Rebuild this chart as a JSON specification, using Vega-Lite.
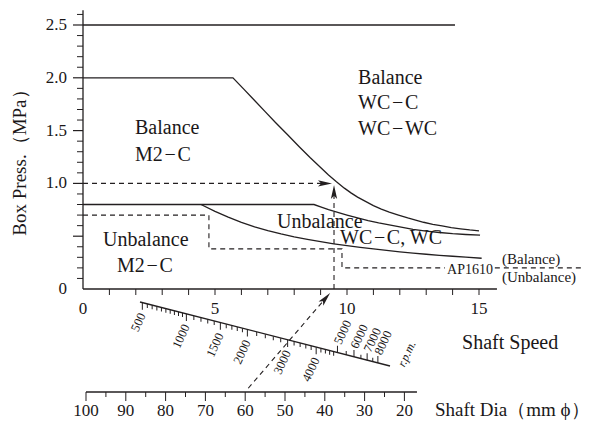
{
  "$schema": "https://vega.github.io/schema/vega-lite/v6.json",
  "width": 590,
  "height": 424,
  "padding": 0,
  "autosize": {"type": "none"},
  "background": "white",
  "config": {
    "view": {"stroke": null},
    "mark": {"color": "#231f20"},
    "text": {"font": "'Liberation Serif', 'Times New Roman', 'DejaVu Serif', serif", "color": "#1a1718"}
  },
  "datasets": {
    "solid": [
      {"g": "top25", "i": 1, "v": 0, "p": 2.5},
      {"g": "top25", "i": 2, "v": 14.09, "p": 2.5},
      {"g": "upper", "i": 1, "v": 0, "p": 2.0},
      {"g": "upper", "i": 2, "v": 5.68, "p": 2.0},
      {"g": "upper", "i": 3, "v": 6.1, "p": 1.89},
      {"g": "upper", "i": 4, "v": 6.5, "p": 1.785},
      {"g": "upper", "i": 5, "v": 6.9, "p": 1.68},
      {"g": "upper", "i": 6, "v": 7.3, "p": 1.575},
      {"g": "upper", "i": 7, "v": 7.75, "p": 1.46},
      {"g": "upper", "i": 8, "v": 8.2, "p": 1.345},
      {"g": "upper", "i": 9, "v": 8.6, "p": 1.245},
      {"g": "upper", "i": 10, "v": 9.0, "p": 1.15},
      {"g": "upper", "i": 11, "v": 9.3, "p": 1.08},
      {"g": "upper", "i": 12, "v": 9.6, "p": 1.015},
      {"g": "upper", "i": 13, "v": 9.9, "p": 0.955},
      {"g": "upper", "i": 14, "v": 10.15, "p": 0.91},
      {"g": "upper", "i": 15, "v": 10.4, "p": 0.87},
      {"g": "upper", "i": 16, "v": 10.7, "p": 0.83},
      {"g": "upper", "i": 17, "v": 11.0, "p": 0.79},
      {"g": "upper", "i": 18, "v": 11.3, "p": 0.757},
      {"g": "upper", "i": 19, "v": 11.6, "p": 0.728},
      {"g": "upper", "i": 20, "v": 11.95, "p": 0.7},
      {"g": "upper", "i": 21, "v": 12.3, "p": 0.673},
      {"g": "upper", "i": 22, "v": 12.6, "p": 0.652},
      {"g": "upper", "i": 23, "v": 12.9, "p": 0.632},
      {"g": "upper", "i": 24, "v": 13.25, "p": 0.613},
      {"g": "upper", "i": 25, "v": 13.6, "p": 0.597},
      {"g": "upper", "i": 26, "v": 13.95, "p": 0.582},
      {"g": "upper", "i": 27, "v": 14.3, "p": 0.57},
      {"g": "upper", "i": 28, "v": 14.65, "p": 0.559},
      {"g": "upper", "i": 29, "v": 15.0, "p": 0.55},
      {"g": "middle", "i": 1, "v": 0, "p": 0.8},
      {"g": "middle", "i": 2, "v": 8.75, "p": 0.8},
      {"g": "middle", "i": 3, "v": 9.0, "p": 0.778},
      {"g": "middle", "i": 4, "v": 9.3, "p": 0.752},
      {"g": "middle", "i": 5, "v": 9.65, "p": 0.725},
      {"g": "middle", "i": 6, "v": 10.0, "p": 0.7},
      {"g": "middle", "i": 7, "v": 10.4, "p": 0.673},
      {"g": "middle", "i": 8, "v": 10.8, "p": 0.648},
      {"g": "middle", "i": 9, "v": 11.2, "p": 0.626},
      {"g": "middle", "i": 10, "v": 11.6, "p": 0.607},
      {"g": "middle", "i": 11, "v": 12.05, "p": 0.586},
      {"g": "middle", "i": 12, "v": 12.5, "p": 0.565},
      {"g": "middle", "i": 13, "v": 13.0, "p": 0.548},
      {"g": "middle", "i": 14, "v": 13.5, "p": 0.535},
      {"g": "middle", "i": 15, "v": 14.0, "p": 0.524},
      {"g": "middle", "i": 16, "v": 14.5, "p": 0.516},
      {"g": "middle", "i": 17, "v": 15.04, "p": 0.51},
      {"g": "lower", "i": 1, "v": 4.47, "p": 0.8},
      {"g": "lower", "i": 2, "v": 5.0, "p": 0.735},
      {"g": "lower", "i": 3, "v": 5.5, "p": 0.68},
      {"g": "lower", "i": 4, "v": 6.0, "p": 0.63},
      {"g": "lower", "i": 5, "v": 6.5, "p": 0.589},
      {"g": "lower", "i": 6, "v": 7.0, "p": 0.553},
      {"g": "lower", "i": 7, "v": 7.5, "p": 0.522},
      {"g": "lower", "i": 8, "v": 8.0, "p": 0.494},
      {"g": "lower", "i": 9, "v": 8.5, "p": 0.47},
      {"g": "lower", "i": 10, "v": 9.0, "p": 0.448},
      {"g": "lower", "i": 11, "v": 9.5, "p": 0.428},
      {"g": "lower", "i": 12, "v": 10.0, "p": 0.41},
      {"g": "lower", "i": 13, "v": 10.5, "p": 0.394},
      {"g": "lower", "i": 14, "v": 11.0, "p": 0.379},
      {"g": "lower", "i": 15, "v": 11.5, "p": 0.365},
      {"g": "lower", "i": 16, "v": 12.0, "p": 0.352},
      {"g": "lower", "i": 17, "v": 12.5, "p": 0.34},
      {"g": "lower", "i": 18, "v": 13.0, "p": 0.329},
      {"g": "lower", "i": 19, "v": 13.5, "p": 0.319},
      {"g": "lower", "i": 20, "v": 14.0, "p": 0.31},
      {"g": "lower", "i": 21, "v": 14.5, "p": 0.301},
      {"g": "lower", "i": 22, "v": 15.1, "p": 0.291},
      {"g": "yaxis", "i": 1, "v": 0, "p": 0},
      {"g": "yaxis", "i": 2, "v": 0, "p": 2.64},
      {"g": "xaxis", "i": 1, "v": 0, "p": 0},
      {"g": "xaxis", "i": 2, "v": 15.68, "p": 0},
      {"g": "rpm", "i": 1, "v": 2.159, "p": -0.1231},
      {"g": "rpm", "i": 2, "v": 11.629, "p": -0.7292},
      {"g": "dia", "i": 1, "v": 0.1136, "p": -0.9754},
      {"g": "dia", "i": 2, "v": 12.65, "p": -0.9754}
    ],
    "dashed": [
      {"g": "m2c", "i": 1, "v": 0, "p": 0.7},
      {"g": "m2c", "i": 2, "v": 4.77, "p": 0.7},
      {"g": "m2c", "i": 3, "v": 4.77, "p": 0.38},
      {"g": "m2c", "i": 4, "v": 9.81, "p": 0.38},
      {"g": "m2c", "i": 5, "v": 9.81, "p": 0.2},
      {"g": "m2c", "i": 6, "v": 13.71, "p": 0.2},
      {"g": "ap", "i": 1, "v": 15.6, "p": 0.2},
      {"g": "ap", "i": 2, "v": 18.94, "p": 0.2},
      {"g": "h1", "i": 1, "v": 0, "p": 1.0},
      {"g": "h1", "i": 2, "v": 9.17, "p": 1.0},
      {"g": "v1", "i": 1, "v": 9.508, "p": 0.0},
      {"g": "v1", "i": 2, "v": 9.508, "p": 0.92},
      {"g": "d1", "i": 1, "v": 6.26, "p": -0.94},
      {"g": "d1", "i": 2, "v": 9.186, "p": -0.088}
    ],
    "yMinor": [
      {"v": 0, "p": 0.1}, {"v": 0, "p": 0.2}, {"v": 0, "p": 0.3}, {"v": 0, "p": 0.4}, {"v": 0, "p": 0.6},
      {"v": 0, "p": 0.7}, {"v": 0, "p": 0.8}, {"v": 0, "p": 0.9}, {"v": 0, "p": 1.1}, {"v": 0, "p": 1.2},
      {"v": 0, "p": 1.3}, {"v": 0, "p": 1.4}, {"v": 0, "p": 1.6}, {"v": 0, "p": 1.7}, {"v": 0, "p": 1.8},
      {"v": 0, "p": 1.9}, {"v": 0, "p": 2.1}, {"v": 0, "p": 2.2}, {"v": 0, "p": 2.3}, {"v": 0, "p": 2.4},
      {"v": 0, "p": 2.6}
    ],
    "yMajor": [{"v": 0, "p": 0.5}, {"v": 0, "p": 1.0}, {"v": 0, "p": 1.5}, {"v": 0, "p": 2.0}, {"v": 0, "p": 2.5}],
    "yLabels": [
      {"v": 0, "p": 0, "t": "0"}, {"v": 0, "p": 1.0, "t": "1.0"}, {"v": 0, "p": 1.5, "t": "1.5"},
      {"v": 0, "p": 2.0, "t": "2.0"}, {"v": 0, "p": 2.5, "t": "2.5"}
    ],
    "xTicks": [
      {"v": 1, "p": 0}, {"v": 2, "p": 0}, {"v": 3, "p": 0}, {"v": 4, "p": 0}, {"v": 5, "p": 0},
      {"v": 6, "p": 0}, {"v": 7, "p": 0}, {"v": 8, "p": 0}, {"v": 9, "p": 0}, {"v": 10, "p": 0},
      {"v": 11, "p": 0}, {"v": 12, "p": 0}, {"v": 13, "p": 0}, {"v": 14, "p": 0}, {"v": 15, "p": 0}
    ],
    "xLabels": [
      {"v": 0, "p": 0, "t": "0"}, {"v": 5, "p": 0, "t": "5"}, {"v": 10, "p": 0, "t": "10"}, {"v": 15, "p": 0, "t": "15"}
    ],
    "diaMajor": [
      {"v": 0.1136, "p": -0.9754, "t": "100"}, {"v": 1.6212, "p": -0.9754, "t": "90"},
      {"v": 3.1288, "p": -0.9754, "t": "80"}, {"v": 4.6364, "p": -0.9754, "t": "70"},
      {"v": 6.1439, "p": -0.9754, "t": "60"}, {"v": 7.6515, "p": -0.9754, "t": "50"},
      {"v": 9.1591, "p": -0.9754, "t": "40"}, {"v": 10.6667, "p": -0.9754, "t": "30"},
      {"v": 12.1742, "p": -0.9754, "t": "20"}
    ],
    "diaMinor": [
      {"v": 0.8674, "p": -0.9754}, {"v": 2.375, "p": -0.9754}, {"v": 3.8826, "p": -0.9754},
      {"v": 5.3902, "p": -0.9754}, {"v": 6.8977, "p": -0.9754}, {"v": 8.4053, "p": -0.9754},
      {"v": 9.9129, "p": -0.9754}, {"v": 11.4205, "p": -0.9754}
    ],
    "rpm": [
      {"n": "500", "k": "bM", "v": 2.2475, "p": -0.1297},
      {"n": "550", "k": "bm", "v": 2.4363, "p": -0.1418},
      {"n": "600", "k": "bm", "v": 2.6195, "p": -0.1535},
      {"n": "650", "k": "bm", "v": 2.7977, "p": -0.1649},
      {"n": "700", "k": "bm", "v": 2.9707, "p": -0.176},
      {"n": "750", "k": "bm", "v": 3.1391, "p": -0.1868},
      {"n": "800", "k": "bm", "v": 3.3029, "p": -0.1973},
      {"n": "850", "k": "bm", "v": 3.4622, "p": -0.2075},
      {"n": "900", "k": "bm", "v": 3.6174, "p": -0.2174},
      {"n": "950", "k": "bm", "v": 3.7685, "p": -0.2271},
      {"n": "1000", "k": "bM", "v": 3.9157, "p": -0.2365},
      {"n": "1100", "k": "bm", "v": 4.199, "p": -0.2547},
      {"n": "1200", "k": "bm", "v": 4.4685, "p": -0.2719},
      {"n": "1300", "k": "bm", "v": 4.725, "p": -0.2883},
      {"n": "1400", "k": "bm", "v": 4.9696, "p": -0.304},
      {"n": "1500", "k": "bM", "v": 5.2029, "p": -0.3189},
      {"n": "1600", "k": "bm", "v": 5.4258, "p": -0.3332},
      {"n": "1700", "k": "bm", "v": 5.639, "p": -0.3469},
      {"n": "1800", "k": "bm", "v": 5.8432, "p": -0.3599},
      {"n": "1900", "k": "bm", "v": 6.0387, "p": -0.3724},
      {"n": "2000", "k": "bM", "v": 6.2263, "p": -0.3845},
      {"n": "2200", "k": "bm", "v": 6.5793, "p": -0.407},
      {"n": "2400", "k": "bm", "v": 6.9054, "p": -0.4279},
      {"n": "2600", "k": "bm", "v": 7.2078, "p": -0.4473},
      {"n": "2800", "k": "bm", "v": 7.489, "p": -0.4653},
      {"n": "3000", "k": "bM", "v": 7.7508, "p": -0.4821},
      {"n": "3200", "k": "bm", "v": 7.9955, "p": -0.4977},
      {"n": "3400", "k": "bm", "v": 8.2247, "p": -0.5124},
      {"n": "3600", "k": "bm", "v": 8.4396, "p": -0.5262},
      {"n": "3800", "k": "bm", "v": 8.6418, "p": -0.5391},
      {"n": "4000", "k": "bM", "v": 8.8321, "p": -0.5513},
      {"n": "4200", "k": "bm", "v": 9.0118, "p": -0.5628},
      {"n": "4400", "k": "bm", "v": 9.1815, "p": -0.5737},
      {"n": "4600", "k": "bm", "v": 9.3421, "p": -0.5839},
      {"n": "4800", "k": "bm", "v": 9.4943, "p": -0.5937},
      {"n": "5000", "k": "aM", "v": 9.6389, "p": -0.603},
      {"n": "5500", "k": "am", "v": 9.97, "p": -0.6241},
      {"n": "6000", "k": "aM", "v": 10.264, "p": -0.643},
      {"n": "6500", "k": "am", "v": 10.5266, "p": -0.6598},
      {"n": "7000", "k": "aM", "v": 10.7625, "p": -0.6749},
      {"n": "7500", "k": "am", "v": 10.9758, "p": -0.6885},
      {"n": "8000", "k": "aM", "v": 11.1694, "p": -0.7009}
    ],
    "bigText": [
      {"v": 1.97, "p": 1.525, "t": "Balance"},
      {"v": 1.97, "p": 1.269, "t": "M2\u200a−\u200aC"},
      {"v": 10.42, "p": 1.998, "t": "Balance"},
      {"v": 10.42, "p": 1.761, "t": "WC\u200a−\u200aC"},
      {"v": 10.42, "p": 1.515, "t": "WC\u200a−\u200aWC"},
      {"v": 0.758, "p": 0.464, "t": "Unbalance"},
      {"v": 1.288, "p": 0.218, "t": "M2\u200a−\u200aC"},
      {"v": 7.35, "p": 0.634, "t": "Unbalance"},
      {"v": 9.735, "p": 0.483, "t": "WC\u200a−\u200aC, WC"},
      {"v": 14.36, "p": -0.511, "t": "Shaft Speed"}
    ],
    "diaTitle": [{"v": 13.33, "p": -1.15, "t": "Shaft Dia（mm ϕ）"}],
    "smallText": [
      {"v": 13.79, "p": 0.18, "t": "AP1610"}
    ],
    "noteText": [
      {"v": 15.87, "p": 0.284, "t": "(Balance)"},
      {"v": 15.87, "p": 0.114, "t": "(Unbalance)"}
    ],
    "yTitle": [{"v": -2.386, "p": 1.24, "t": "Box Press.（MPa）"}],
    "rpmUnit": [{"v": 12.045, "p": -0.729, "t": "r.p.m."}],
    "arrowH": [{"v": 9.167, "p": 1.0}],
    "arrowV": [{"v": 9.508, "p": 0.919}],
    "arrowD": [{"v": 9.186, "p": -0.088}]
  },
  "encoding": {
    "x": {"field": "v", "type": "quantitative", "scale": {"domain": [-3.1439, 19.2045], "zero": false, "nice": false}, "axis": null},
    "y": {"field": "p", "type": "quantitative", "scale": {"domain": [-1.2784, 2.7367], "zero": false, "nice": false}, "axis": null}
  },
  "layer": [
    {
      "data": {"name": "solid"},
      "mark": {"type": "line", "strokeWidth": 1.3, "color": "#231f20"},
      "encoding": {"detail": {"field": "g"}, "order": {"field": "i"}}
    },
    {
      "data": {"name": "dashed"},
      "mark": {"type": "line", "strokeWidth": 1.1, "strokeDash": [5, 4], "color": "#231f20"},
      "encoding": {"detail": {"field": "g"}, "order": {"field": "i"}}
    },
    {
      "data": {"name": "yMinor"},
      "mark": {"type": "tick", "orient": "horizontal", "size": 6, "thickness": 1, "xOffset": -3, "opacity": 1}
    },
    {
      "data": {"name": "yMajor"},
      "mark": {"type": "tick", "orient": "horizontal", "size": 10, "thickness": 1.2, "xOffset": -5, "opacity": 1}
    },
    {
      "data": {"name": "yLabels"},
      "mark": {"type": "text", "align": "right", "baseline": "middle", "fontSize": 17, "xOffset": -16},
      "encoding": {"text": {"field": "t"}}
    },
    {
      "data": {"name": "xTicks"},
      "mark": {"type": "tick", "orient": "vertical", "size": 6, "thickness": 1, "yOffset": 3, "opacity": 1}
    },
    {
      "data": {"name": "xLabels"},
      "mark": {"type": "text", "align": "center", "baseline": "middle", "fontSize": 17, "yOffset": 20},
      "encoding": {"text": {"field": "t"}}
    },
    {
      "data": {"name": "diaMajor"},
      "mark": {"type": "tick", "orient": "vertical", "size": 9, "thickness": 1, "yOffset": 4.5, "opacity": 1}
    },
    {
      "data": {"name": "diaMinor"},
      "mark": {"type": "tick", "orient": "vertical", "size": 5, "thickness": 1, "yOffset": 2.5, "opacity": 1}
    },
    {
      "data": {"name": "diaMajor"},
      "mark": {"type": "text", "align": "center", "baseline": "middle", "fontSize": 17, "yOffset": 19},
      "encoding": {"text": {"field": "t"}}
    },
    {
      "data": {"name": "rpm"},
      "transform": [{"filter": "datum.k == 'bm'"}],
      "mark": {"type": "tick", "orient": "vertical", "size": 4, "thickness": 1, "yOffset": 2, "opacity": 1}
    },
    {
      "data": {"name": "rpm"},
      "transform": [{"filter": "datum.k == 'bM'"}],
      "mark": {"type": "tick", "orient": "vertical", "size": 7, "thickness": 1, "yOffset": 3.5, "opacity": 1}
    },
    {
      "data": {"name": "rpm"},
      "transform": [{"filter": "datum.k == 'am'"}],
      "mark": {"type": "tick", "orient": "vertical", "size": 4, "thickness": 1, "yOffset": -2, "opacity": 1}
    },
    {
      "data": {"name": "rpm"},
      "transform": [{"filter": "datum.k == 'aM'"}],
      "mark": {"type": "tick", "orient": "vertical", "size": 7, "thickness": 1, "yOffset": -3.5, "opacity": 1}
    },
    {
      "data": {"name": "rpm"},
      "transform": [{"filter": "datum.k == 'bM'"}],
      "mark": {"type": "text", "align": "right", "baseline": "middle", "angle": 295, "fontSize": 12.5, "yOffset": 11},
      "encoding": {"text": {"field": "n"}}
    },
    {
      "data": {"name": "rpm"},
      "transform": [{"filter": "datum.k == 'aM'"}],
      "mark": {"type": "text", "align": "left", "baseline": "middle", "angle": 295, "fontSize": 12.5, "yOffset": -9},
      "encoding": {"text": {"field": "n"}}
    },
    {
      "data": {"name": "rpmUnit"},
      "mark": {"type": "text", "align": "left", "baseline": "middle", "angle": 295, "fontSize": 12, "fontStyle": "italic"},
      "encoding": {"text": {"field": "t"}}
    },
    {
      "data": {"name": "bigText"},
      "mark": {"type": "text", "align": "left", "baseline": "middle", "fontSize": 20},
      "encoding": {"text": {"field": "t"}}
    },
    {
      "data": {"name": "diaTitle"},
      "mark": {"type": "text", "align": "left", "baseline": "middle", "fontSize": 19},
      "encoding": {"text": {"field": "t"}}
    },
    {
      "data": {"name": "smallText"},
      "mark": {"type": "text", "align": "left", "baseline": "middle", "fontSize": 14},
      "encoding": {"text": {"field": "t"}}
    },
    {
      "data": {"name": "noteText"},
      "mark": {"type": "text", "align": "left", "baseline": "middle", "fontSize": 15},
      "encoding": {"text": {"field": "t"}}
    },
    {
      "data": {"name": "yTitle"},
      "mark": {"type": "text", "align": "center", "baseline": "middle", "angle": 270, "fontSize": 19},
      "encoding": {"text": {"field": "t"}}
    },
    {
      "data": {"name": "arrowH"},
      "mark": {"type": "point", "shape": "M1,0L-1,-0.45L-0.55,0L-1,0.45Z", "filled": true, "size": 196, "opacity": 1, "angle": 0, "color": "#231f20"}
    },
    {
      "data": {"name": "arrowV"},
      "mark": {"type": "point", "shape": "M1,0L-1,-0.45L-0.55,0L-1,0.45Z", "filled": true, "size": 196, "opacity": 1, "angle": 270, "color": "#231f20"}
    },
    {
      "data": {"name": "arrowD"},
      "mark": {"type": "point", "shape": "M1,0L-1,-0.45L-0.55,0L-1,0.45Z", "filled": true, "size": 196, "opacity": 1, "angle": 311, "color": "#231f20"}
    }
  ]
}
